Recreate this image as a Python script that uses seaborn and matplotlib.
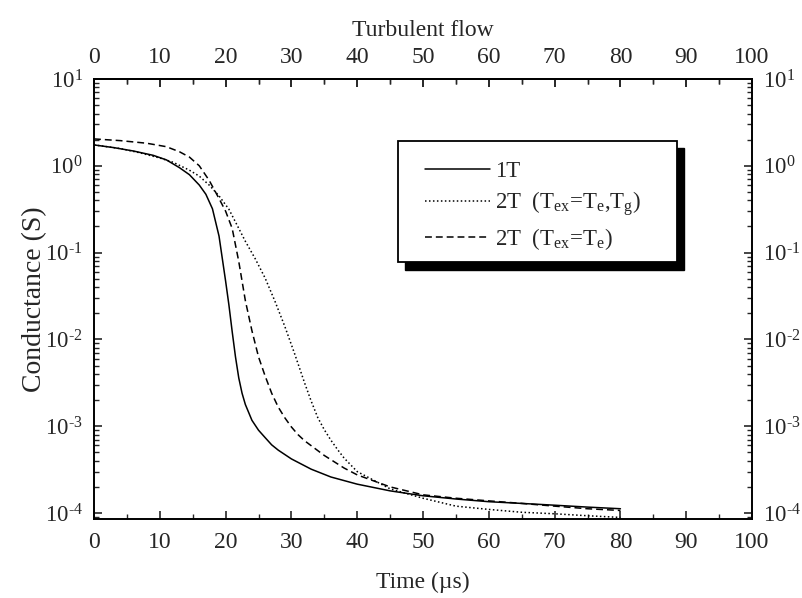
import numpy as np
import pandas as pd
import matplotlib
matplotlib.use("Agg")
import matplotlib.pyplot as plt
import matplotlib.ticker as mticker
from matplotlib.patches import Rectangle
import seaborn as sns

# ---- data ----
t_1T = [0, 3, 6, 9, 11, 13, 14.5, 16, 17, 18, 19, 20, 20.5, 21, 21.5, 22, 22.5,
        23, 24, 25, 26, 27, 28, 30, 33, 36, 40, 45, 50, 55, 60, 65, 70, 75, 80]
g_1T = [1.74, 1.62, 1.48, 1.32, 1.17, 0.95, 0.79, 0.60, 0.47, 0.32, 0.155, 0.047,
        0.025, 0.0123, 6.3e-3, 3.6e-3, 2.4e-3, 1.78e-3, 1.17e-3, 9.0e-4, 7.4e-4,
        6.1e-4, 5.3e-4, 4.2e-4, 3.2e-4, 2.6e-4, 2.15e-4, 1.8e-4, 1.58e-4, 1.45e-4,
        1.35e-4, 1.29e-4, 1.23e-4, 1.17e-4, 1.12e-4]

t_2Tg = [0, 4, 7, 10, 12, 14.5, 16, 17.5, 19, 20.5, 22, 23, 24.5, 26, 27.5, 29,
         30.5, 32, 33, 34, 35, 36, 37, 38, 40, 45, 50, 55, 60, 65, 70, 75, 80]
g_2Tg = [1.74, 1.58, 1.41, 1.23, 1.10, 0.89, 0.76, 0.60, 0.45, 0.316, 0.19, 0.135,
         0.085, 0.051, 0.0275, 0.0141, 6.8e-3, 3.16e-3, 1.95e-3, 1.26e-3, 9.1e-4,
         6.9e-4, 5.4e-4, 4.3e-4, 3.0e-4, 1.9e-4, 1.48e-4, 1.2e-4, 1.1e-4,
         1.02e-4, 9.8e-5, 9.3e-5, 8.9e-5]

t_2T = [0, 4, 8, 11, 13, 14.5, 16, 17.5, 19, 20, 21, 22, 23, 24, 25, 26, 27, 28,
        29, 30, 31, 32, 35, 38, 40, 45, 50, 55, 60, 65, 70, 75, 80]
g_2T = [2.04, 1.95, 1.82, 1.66, 1.45, 1.26, 1.0, 0.68, 0.42, 0.30, 0.19, 0.079,
        0.028, 0.0126, 6.3e-3, 3.8e-3, 2.4e-3, 1.66e-3, 1.25e-3, 9.8e-4, 8.0e-4,
        6.8e-4, 4.6e-4, 3.3e-4, 2.75e-4, 2.0e-4, 1.62e-4, 1.48e-4, 1.38e-4,
        1.29e-4, 1.2e-4, 1.12e-4, 1.07e-4]

labels = ["1T",
          r"2T  (T$_{\mathrm{ex}}$=T$_{\mathrm{e}}$,T$_{\mathrm{g}}$)",
          r"2T  (T$_{\mathrm{ex}}$=T$_{\mathrm{e}}$)"]
x_ticks = list(range(0, 101, 10))

# ---- style ----
sns.set_style("ticks")
plt.rcParams["font.family"] = ["Liberation Serif", "DejaVu Serif"]
plt.rcParams["mathtext.fontset"] = "custom"
plt.rcParams["mathtext.rm"] = "Liberation Serif"
plt.rcParams["mathtext.it"] = "Liberation Serif:italic"
plt.rcParams["mathtext.bf"] = "Liberation Serif:bold"
plt.rcParams["axes.unicode_minus"] = False
plt.rcParams["font.size"] = 17

fig = plt.figure(figsize=(8.02, 5.98), dpi=100)
ax = fig.add_axes([0.1172, 0.1321, 0.8205, 0.7358])

series = [(t_1T, g_1T, labels[0], "-"),
          (t_2Tg, g_2Tg, labels[1], (0, (1, 1.6))),
          (t_2T, g_2T, labels[2], (0, (4.5, 2.6)))]
for tt, gg, lab, ls in series:
    df = pd.DataFrame({"t": tt, "g": gg})
    sns.lineplot(data=df, x="t", y="g", ax=ax, color="black", lw=1.1,
                 linestyle=ls, label=lab, sort=False)


def log_fmt(val, pos):
    e = int(round(np.log10(val)))
    if e < 0:
        return r"$\mathdefault{10^{\text{-}%d}}$" % (-e)
    return r"$\mathdefault{10^{%d}}$" % e


ax.set_yscale("log")
ax.set_xlim(0, 100)
ax.set_ylim(10 ** (-4.069), 10)
ax.set_xticks(x_ticks)
ax.xaxis.set_minor_locator(mticker.MultipleLocator(5))
ax.yaxis.set_major_locator(mticker.LogLocator(base=10, numticks=10))
ax.yaxis.set_minor_locator(mticker.LogLocator(base=10, subs=np.arange(2, 10), numticks=20))
ax.yaxis.set_minor_formatter(mticker.NullFormatter())
ax.yaxis.set_major_formatter(mticker.FuncFormatter(log_fmt))

ax.tick_params(axis="both", which="major", direction="in", length=6, width=1.2,
               labelsize=17, top=True, right=True, labelright=True)
ax.tick_params(axis="x", which="major", pad=9)
ax.tick_params(axis="y", which="major", pad=8, labelsize=16.5)
ax.tick_params(axis="both", which="minor", direction="in", length=3.5, width=1.0,
               top=True, right=True)
for sp in ax.spines.values():
    sp.set_linewidth(1.4)
    sp.set_color("black")

secax = ax.secondary_xaxis("top")
secax.set_xticks(x_ticks)
secax.xaxis.set_minor_locator(mticker.MultipleLocator(5))
secax.tick_params(axis="x", which="major", direction="in", length=6, width=1.2,
                  labelsize=17, pad=8)
secax.tick_params(axis="x", which="minor", direction="in", length=3.5, width=1.0)
secax.spines["top"].set_linewidth(1.4)
secax.set_xlabel("Turbulent flow", fontsize=17, labelpad=8)

ax.set_xlabel("Time (\u00b5s)", fontsize=17, labelpad=14)
ax.set_ylabel("Conductance (S)", fontsize=20, labelpad=-2)

# legend box with solid black drop shadow
ax.add_patch(Rectangle((0.4726, 0.566), 0.4241, 0.277, transform=ax.transAxes,
                       facecolor="black", edgecolor="black", zorder=4))
ax.add_patch(Rectangle((0.462, 0.584), 0.424, 0.275, transform=ax.transAxes,
                       facecolor="white", edgecolor="black", lw=1.3, zorder=4.5))
leg = ax.legend(loc="upper left", bbox_to_anchor=(0.503, 0.8136), borderaxespad=0,
                frameon=False, fontsize=16.5, handlelength=2.85,
                handletextpad=0.22, labelspacing=0.33, borderpad=0)
leg.set_zorder(6)

fig.savefig("out.png", dpi=100)
